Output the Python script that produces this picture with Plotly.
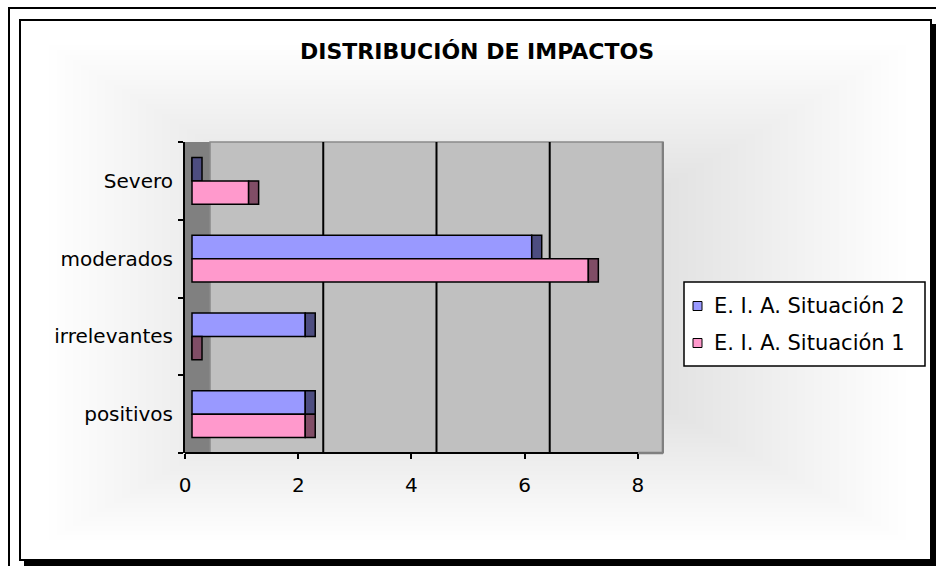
import plotly.graph_objects as go

# Data
categories = ["positivos", "irrelevantes", "moderados", "Severo"]
situacion_2 = [2, 2, 6, 0]
situacion_1 = [2, 0, 7, 1]
series_names = ["E. I. A. Situación 2", "E. I. A. Situación 1"]
x_ticks = [0, 2, 4, 6, 8]

FONT = "Comic Sans MS, DejaVu Sans, sans-serif"
W, H = 936, 566
L, T, B = 185, 142, 113
X_MAX = 8.46
PX_PER_UNIT = 56.6
R = W - L - round(X_MAX * PX_PER_UNIT)
PW, PH = W - L - R, H - T - B

# 3D look: depth of the back wall and end caps, in axis units
DEPTH = 25 / PX_PER_UNIT
BAR_SHIFT = 7 / PX_PER_UNIT
CAP = 10 / PX_PER_UNIT
BAR_W = 0.30


def px(x):
    return (x - L) / PW


def py(y):
    return (H - B - y) / PH


face_cols = ["#9999ff", "#ff99cc"]
cap_cols = ["#4d4d80", "#804d66"]
offsets = [0.0, -BAR_W]

fig = go.Figure()
for vals, fcol, ccol, off, name in zip([situacion_2, situacion_1], face_cols, cap_cols,
                                       offsets, series_names):
    fig.add_trace(go.Bar(
        y=categories, x=vals, base=[BAR_SHIFT] * len(vals), orientation="h",
        width=BAR_W, offset=off, name=name, showlegend=False,
        marker=dict(color=fcol, line=dict(color="black", width=1.5)),
    ))
    fig.add_trace(go.Bar(
        y=categories, x=[CAP] * len(vals), base=[BAR_SHIFT + v for v in vals],
        orientation="h", width=BAR_W, offset=off, showlegend=False, hoverinfo="skip",
        marker=dict(color=ccol, line=dict(color="black", width=1.5)),
    ))

shapes = []
# outer frame
shapes.append(dict(type="rect", xref="paper", yref="paper", x0=px(9), x1=px(960),
                   y0=py(8), y1=py(590), line=dict(color="black", width=2),
                   fillcolor="white", layer="below"))
# drop shadow and chart box
shapes.append(dict(type="rect", xref="paper", yref="paper", x0=px(24), x1=px(937),
                   y0=py(24), y1=py(567), line=dict(width=0), fillcolor="black",
                   layer="below"))
shapes.append(dict(type="rect", xref="paper", yref="paper", x0=px(20), x1=px(931),
                   y0=py(20), y1=py(560), line=dict(color="black", width=2),
                   fillcolor="white", layer="below"))
# soft radial shading inside the chart box
cx, cy = 470, 300
n = 45
for i in range(n):
    f = (i + 1) / n
    x0 = 40 + (cx - 40) * f * 0.85
    x1 = 915 - (915 - cx) * f * 0.85
    y0 = 40 + (cy - 40) * f * 0.85
    y1 = 545 - (545 - cy) * f * 0.85
    shapes.append(dict(type="rect", xref="paper", yref="paper", x0=px(x0), x1=px(x1),
                       y0=py(y0), y1=py(y1), line=dict(width=0),
                       fillcolor="rgba(0,0,0,0.0024)", layer="below"))
# side wall and back wall
shapes.append(dict(type="rect", xref="x", yref="paper", x0=0, x1=DEPTH, y0=0, y1=1,
                   line=dict(width=0), fillcolor="#808080", layer="below"))
shapes.append(dict(type="rect", xref="x", yref="paper", x0=DEPTH, x1=8 + DEPTH, y0=0, y1=1,
                   line=dict(color="#8a8a8a", width=1.5), fillcolor="#c0c0c0", layer="below"))
shapes.append(dict(type="line", xref="x", yref="paper", x0=8 + DEPTH, x1=8 + DEPTH, y0=0, y1=1,
                   line=dict(color="#808080", width=2.5), layer="below"))
shapes.append(dict(type="line", xref="x", yref="paper", x0=8, x1=8 + DEPTH, y0=0, y1=0,
                   line=dict(color="#808080", width=2.5), layer="below"))
# gridlines on the back wall
for v in x_ticks[1:-1]:
    shapes.append(dict(type="line", xref="x", yref="paper", x0=v + DEPTH, x1=v + DEPTH,
                       y0=0, y1=1, line=dict(color="black", width=2), layer="below"))
# value axis line
shapes.append(dict(type="line", xref="x", yref="paper", x0=0, x1=8, y0=0, y1=0,
                   line=dict(color="black", width=2)))

# legend
lx0, lx1, ly0, ly1 = 684, 925, 282, 366
shapes.append(dict(type="rect", xref="paper", yref="paper", x0=px(lx0), x1=px(lx1),
                   y0=py(ly0), y1=py(ly1), line=dict(color="black", width=1.5),
                   fillcolor="white"))
annotations = [dict(text="<b>DISTRIBUCIÓN DE IMPACTOS</b>", xref="paper", yref="paper",
                    x=px(477), y=py(51), showarrow=False, xanchor="center", yanchor="middle",
                    font=dict(family=FONT, size=22, color="black"))]
for k, (name, fcol) in enumerate(zip(series_names, face_cols)):
    yc = 306 + k * 37
    shapes.append(dict(type="rect", xref="paper", yref="paper", x0=px(693), x1=px(702),
                       y0=py(yc - 4.5), y1=py(yc + 4.5), line=dict(color="black", width=1),
                       fillcolor=fcol))
    annotations.append(dict(text=name, xref="paper", yref="paper", x=px(712), y=py(yc),
                            showarrow=False, xanchor="left", yanchor="middle",
                            font=dict(family=FONT, size=21, color="black")))

fig.update_layout(
    width=W, height=H,
    margin=dict(l=L, r=R, t=T, b=B),
    paper_bgcolor="white", plot_bgcolor="rgba(0,0,0,0)",
    barmode="overlay",
    font=dict(family=FONT, size=20, color="black"),
    shapes=shapes, annotations=annotations,
    showlegend=False,
    xaxis=dict(range=[0, X_MAX], tickvals=x_ticks, ticktext=[str(v) for v in x_ticks],
               showgrid=False, zeroline=False, showline=False,
               ticks="outside", ticklen=5, tickwidth=2, tickcolor="black",
               ticklabelstandoff=9, tickfont=dict(size=20)),
    yaxis=dict(type="category", categoryorder="array", categoryarray=categories,
               range=[-0.5, 3.5], showgrid=False, zeroline=False,
               showline=True, linecolor="black", linewidth=2,
               ticks="outside", tickson="boundaries", ticklen=5, tickwidth=2,
               tickcolor="black", ticklabelstandoff=6, tickfont=dict(size=20)),
)

fig.write_html("out.html")
